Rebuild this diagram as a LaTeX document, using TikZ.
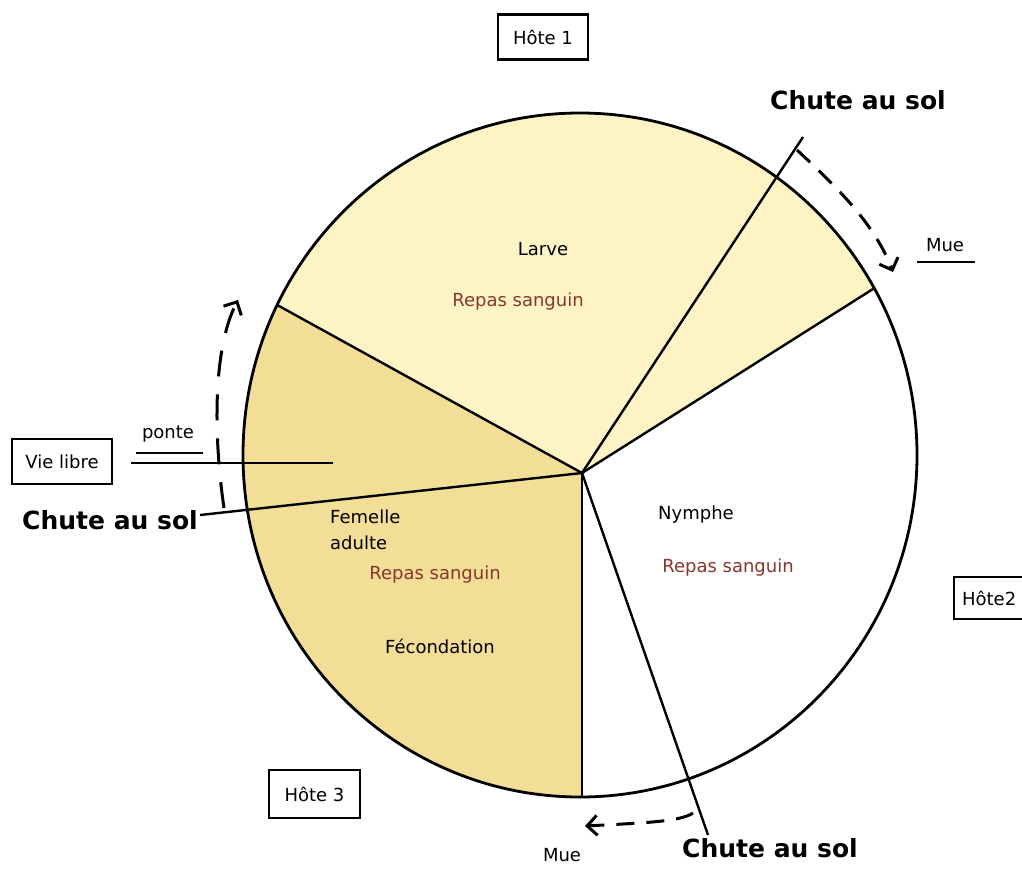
\documentclass[tikz,border=0pt]{standalone}
\usepackage{fontspec}
\setmainfont{DejaVu Sans}
\usetikzlibrary{arrows.meta}
\definecolor{larvefill}{RGB}{252,244,197}
\definecolor{femfill}{RGB}{243,222,152}
\definecolor{sang}{RGB}{135,55,45}
\begin{document}
\begin{tikzpicture}[x=1pt,y=-1pt,
  lbl/.style={font=\fontsize{18}{26}\selectfont, inner sep=0pt},
  chute/.style={font=\fontsize{25}{28}\selectfont\bfseries, inner sep=0pt},
  hostbox/.style={draw, line width=2.2pt, font=\fontsize{18}{21}\selectfont, inner sep=0pt},
  spoke/.style={line width=2.4pt},
  rim/.style={line width=2.8pt},
  dasharrow/.style={line width=3pt, dash pattern=on 18pt off 12pt, -{Straight Barb[length=10pt,width=20pt]}}]
\useasboundingbox (0,0) rectangle (1022,876);
\fill[white] (0,0) rectangle (1022,876);
\clip (0,0) rectangle (1022,876);

\coordinate (H) at (582,473);
\coordinate (C) at (580,455);
\coordinate (s1) at (-24,139);
\coordinate (s3) at (1164,105);
\coordinate (s5) at (582,1000);
\coordinate (s2) at (803,137);
\coordinate (s4) at (708,835);
\coordinate (s6) at (200,515);

\begin{scope}
  \clip (C) ellipse [x radius=337, y radius=342];
  \fill[white] (C) ellipse [x radius=337, y radius=342];
  \fill[femfill] (H) -- (s1) -- (-24,1000) -- (s5) -- cycle;
  \fill[larvefill] (H) -- (s1) -- (-24,-100) -- (1164,-100) -- (s3) -- cycle;
  \draw[spoke] (H) -- (s1);
  \draw[spoke] (H) -- (s3);
  \draw[spoke] (H) -- (s5);
\end{scope}
\draw[rim] (C) ellipse [x radius=337, y radius=342];
\draw[spoke] (H) -- (s2);
\draw[spoke] (H) -- (s4);
\draw[spoke] (H) -- (s6);

% Vie libre lines
\coordinate (v1) at (131,463);
\coordinate (v2) at (333,463);
\coordinate (p1) at (136,453);
\coordinate (p2) at (203,453);
\draw[spoke] (v1) -- (v2);
\draw[spoke] (p1) -- (p2);
\coordinate (m1) at (917,262);
\coordinate (m2) at (975,262);
\draw[spoke] (m1) -- (m2);

% texts
\node[lbl] (larve) at (543,249) {Larve};
\node[lbl, text=sang] (rs1) at (518,302) {Repas sanguin};
\node[lbl, align=left, anchor=west] (fem) at (330,530) {Femelle\\adulte};
\node[lbl, text=sang] (rs2) at (435,575) {Repas sanguin};
\node[lbl] (fec) at (440,646) {Fécondation};
\node[lbl] (nym) at (696,515) {Nymphe};
\node[lbl, text=sang] (rs3) at (728,568) {Repas sanguin};
\node[lbl] (ponte) at (168,434) {ponte};
\node[lbl] (mue1) at (945,245) {Mue};
\node[lbl] (mue2) at (562,855) {Mue};
\node[chute] (c1) at (858,100) {Chute au sol};
\node[chute] (c2) at (110,520) {Chute au sol};
\node[chute] (c3) at (770,848) {Chute au sol};

% boxes
\node[hostbox, minimum width=90pt, minimum height=45pt] (h1) at (543,37) {Hôte 1};
\node[hostbox, minimum width=100pt, minimum height=45pt] (vl) at (62,461.5) {Vie libre};
\node[hostbox, minimum width=91pt, minimum height=48pt] (h3) at (314.5,794) {Hôte 3};
\node[hostbox, anchor=west, minimum height=42pt, inner xsep=8pt] (h2) at (953,598) {Hôte2};

% dashed arrows
\coordinate (a1s) at (224,508);
\coordinate (a1e) at (238,300);
\draw[dasharrow, dash pattern=on 26pt off 18pt] (a1s) .. controls (214,440) and (212,350) .. (a1e);
\coordinate (a2s) at (797,150);
\coordinate (a2e) at (893,272);
\draw[dasharrow] (a2s) .. controls (840,190) and (875,225) .. (a2e);
\coordinate (a3s) at (693,813);
\coordinate (a3e) at (585,826);
\draw[dasharrow] (a3s) .. controls (680,822) and (640,823) .. (a3e);
\end{tikzpicture}
\end{document}
